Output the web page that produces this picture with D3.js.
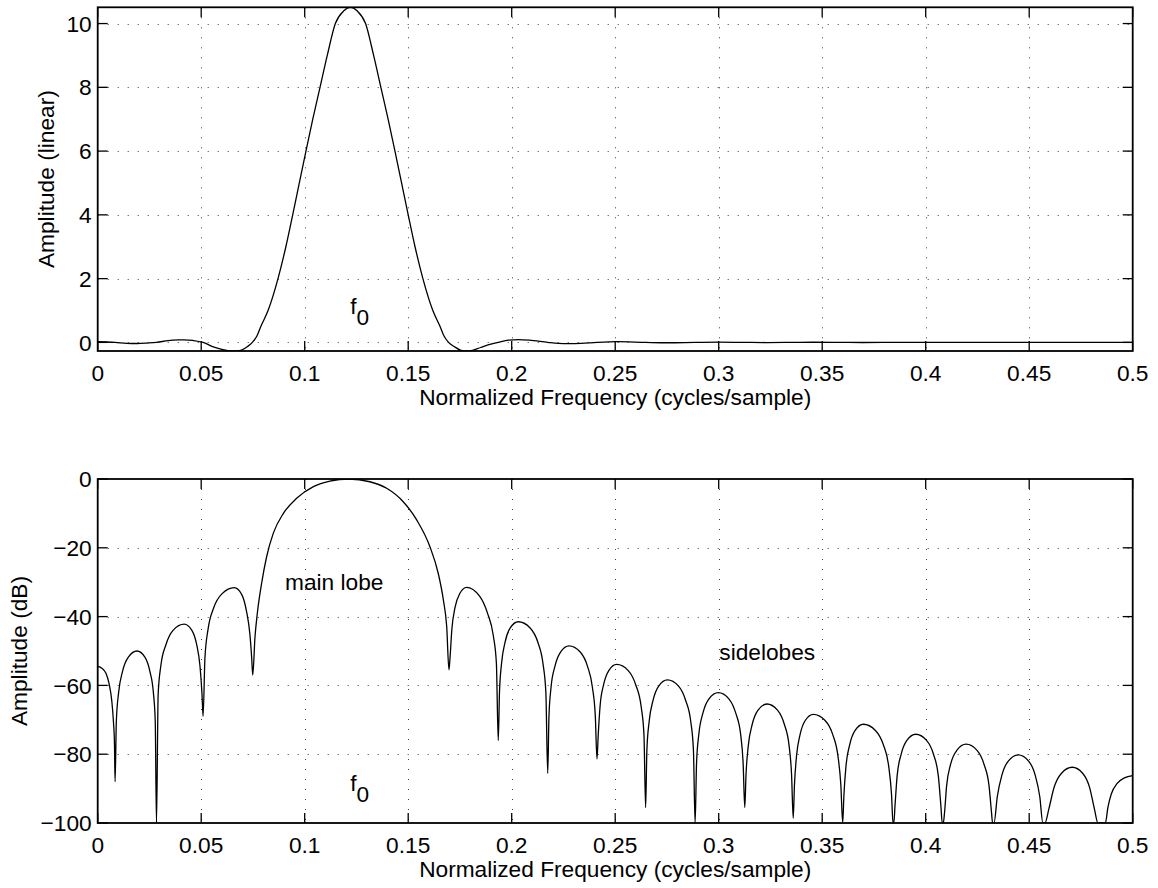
<!DOCTYPE html>
<html>
<head>
<meta charset="utf-8">
<script src="https://cdn.jsdelivr.net/npm/d3@7"></script>
<style>
  body { margin: 0; background: #fff; }
  text { font-family: "Liberation Sans", Arial, Helvetica, sans-serif; fill: #000; }
</style>
</head>
<body>
<script>
// Frequency axis (shared by both panels)
var freqTicks = [0, 0.05, 0.1, 0.15, 0.2, 0.25, 0.3, 0.35, 0.4, 0.45, 0.5];
var freqTickLabels = ["0", "0.05", "0.1", "0.15", "0.2", "0.25", "0.3", "0.35", "0.4", "0.45", "0.5"];

// Top panel: linear amplitude
var linearTicks = [0, 2, 4, 6, 8, 10];
var linearTickLabels = ["0", "2", "4", "6", "8", "10"];
var linearRange = [-0.27, 10.51];
var linearPoints = [
  [0, 0.02], [0.0042, 0.012], [0.0084, 0], [0.0140, -0.028], [0.0190, -0.034], [0.0240, -0.02],
  [0.0284, 0], [0.0340, 0.055], [0.0390, 0.078], [0.0418, 0.082], [0.0460, 0.06], [0.0509, 0],
  [0.0555, -0.13], [0.0600, -0.22], [0.0635, -0.265], [0.0662, -0.27], [0.0695, -0.24], [0.0724, -0.13],
  [0.0747, 0], [0.0769, 0.2], [0.0788, 0.5], [0.0823, 1.0], [0.0871, 2.0], [0.0909, 3.0],
  [0.0942, 4.0], [0.0974, 5.0], [0.1006, 6.0], [0.1039, 7.0], [0.1074, 8.0], [0.1109, 9.0],
  [0.1148, 10.0], [0.1189, 10.4], [0.1221, 10.51], [0.1253, 10.4], [0.1294, 10.0], [0.1333, 9.0],
  [0.1368, 8.0], [0.1403, 7.0], [0.1436, 6.0], [0.1468, 5.0], [0.1500, 4.0], [0.1533, 3.0],
  [0.1571, 2.0], [0.1619, 1.0], [0.1654, 0.5], [0.1673, 0.2], [0.1695, 0],
  [0.1722, -0.13], [0.1752, -0.24], [0.1782, -0.27], [0.1815, -0.24], [0.1850, -0.16],
  [0.1890, -0.07], [0.1935, 0], [0.1985, 0.07], [0.2032, 0.088], [0.2085, 0.07], [0.2174, 0],
  [0.2225, -0.032], [0.2277, -0.039], [0.2335, -0.03], [0.2412, 0], [0.2507, 0.021], [0.2647, 0],
  [0.2752, -0.012], [0.2886, 0], [0.2998, 0.008], [0.3126, 0], [0.3233, -0.005], [0.3360, 0],
  [0.3457, 0.004], [0.3599, 0], [0.3699, -0.003], [0.3844, 0], [0.3952, 0.002], [0.4082, 0],
  [0.4195, -0.0015], [0.4327, 0], [0.4447, 0.001], [0.4571, 0], [0.4708, -0.0007], [0.4835, 0],
  [0.5, 0.0005]
];

// Bottom panel: amplitude in dB
var dbTicks = [-100, -80, -60, -40, -20, 0];
var dbTickLabels = ["\u2212100", "\u221280", "\u221260", "\u221240", "\u221220", "0"];
var dbRange = [-100, 0];
var dbPoints = [
  [0, -54.5], [0.0020, -55.0], [0.0040, -56.5], [0.0055, -59.5], [0.0068, -64.5], [0.0076, -70.5], [0.0081, -77], [0.0084, -88],
  [0.0090, -70.5], [0.0101, -62.1], [0.0120, -55.9], [0.0148, -51.8], [0.0190, -50.0], [0.0228, -51.8], [0.0252, -55.9], [0.0269, -62.1], [0.0278, -70.5], [0.0284, -100],
  [0.0292, -62.7], [0.0305, -54.3], [0.0330, -48.1], [0.0364, -44.0], [0.0418, -42.2], [0.0455, -44.0], [0.0478, -48.1], [0.0494, -54.3], [0.0504, -62.7], [0.0509, -69],
  [0.0518, -52.1], [0.0533, -43.7], [0.0560, -37.5], [0.0600, -33.4], [0.0660, -31.6], [0.0696, -33.6], [0.0719, -38.5], [0.0735, -45], [0.0744, -52.1], [0.0749, -57],
  [0.0760, -45.8], [0.0771, -39.1], [0.0792, -30.3], [0.0816, -22.6], [0.0848, -15.8], [0.0897, -10.0], [0.0961, -5.6], [0.1042, -2.2], [0.1122, -0.6], [0.1213, 0],
  [0.1315, -0.8], [0.1396, -2.7], [0.1476, -6.6], [0.1541, -11.9], [0.1605, -19.7], [0.1645, -27.4], [0.1670, -35.2], [0.1686, -42.9], [0.1697, -55.5],
  [0.1702, -52.0], [0.1711, -43.6], [0.1726, -37.4], [0.1749, -33.3], [0.1782, -31.5], [0.1844, -34.0], [0.1883, -39.0], [0.1911, -45.5], [0.1926, -53.5], [0.1935, -76],
  [0.1941, -62.0], [0.1951, -53.6], [0.1968, -47.4], [0.1993, -43.3], [0.2032, -41.5], [0.2089, -43.3], [0.2126, -47.4], [0.2151, -53.6], [0.2165, -62.0], [0.2174, -85.6],
  [0.2180, -69.0], [0.2190, -60.6], [0.2209, -54.4], [0.2236, -50.3], [0.2277, -48.5], [0.2331, -50.3], [0.2366, -54.4], [0.2390, -60.6], [0.2404, -69.0], [0.2412, -81.4],
  [0.2418, -74.4], [0.2427, -66.0], [0.2444, -59.8], [0.2469, -55.7], [0.2507, -53.9], [0.2563, -55.7], [0.2599, -59.8], [0.2625, -66.0], [0.2639, -74.4], [0.2647, -95.5],
  [0.2653, -78.9], [0.2664, -70.5], [0.2683, -64.3], [0.2710, -60.2], [0.2752, -58.4], [0.2806, -60.2], [0.2840, -64.3], [0.2865, -70.5], [0.2878, -78.9], [0.2886, -100],
  [0.2893, -82.6], [0.2904, -74.2], [0.2924, -68.0], [0.2953, -63.9], [0.2998, -62.1], [0.3049, -63.9], [0.3082, -68.0], [0.3106, -74.2], [0.3118, -82.6], [0.3126, -95.5],
  [0.3132, -85.9], [0.3143, -77.5], [0.3162, -71.3], [0.3190, -67.2], [0.3233, -65.4], [0.3284, -67.2], [0.3317, -71.3], [0.3340, -77.5], [0.3352, -85.9], [0.3360, -98.6],
  [0.3366, -88.9], [0.3376, -80.5], [0.3393, -74.3], [0.3418, -70.2], [0.3457, -68.4], [0.3514, -70.2], [0.3551, -74.3], [0.3576, -80.5], [0.3590, -88.9], [0.3599, -100],
  [0.3605, -91.8], [0.3615, -83.4], [0.3633, -77.2], [0.3659, -73.1], [0.3699, -71.3], [0.3757, -73.1], [0.3795, -77.2], [0.3821, -83.4], [0.3835, -91.8], [0.3842, -100], [0.3846, -100],
  [0.3852, -94.7], [0.3862, -86.3], [0.3881, -80.1], [0.3909, -76.0], [0.3952, -74.2], [0.4004, -76.0], [0.4038, -80.1], [0.4061, -86.3], [0.4073, -94.7], [0.4080, -100], [0.4085, -100],
  [0.4091, -97.0], [0.4101, -89.2], [0.4120, -83.0], [0.4150, -78.9], [0.4195, -77.1], [0.4248, -78.9], [0.4282, -83.0], [0.4306, -89.2], [0.4318, -97.0], [0.4323, -100], [0.4330, -100],
  [0.4346, -92.3], [0.4368, -86.1], [0.4399, -82.0], [0.4447, -80.2], [0.4497, -82.0], [0.4529, -86.1], [0.4551, -92.3], [0.4566, -100], [0.4576, -100],
  [0.4595, -95.9], [0.4620, -89.7], [0.4655, -85.6], [0.4708, -83.8], [0.4759, -85.6], [0.4792, -89.7], [0.4815, -95.9], [0.4832, -100], [0.4868, -100],
  [0.4880, -95.5], [0.4897, -91.5], [0.4925, -88.5], [0.4960, -86.9], [0.5, -86.2]
];

var fontSize = 22.7;

var svg = d3.select("body")
  .append("svg")
  .attr("width", 1158)
  .attr("height", 888);

var x = d3.scaleLinear().domain([0, 0.5]).range([97.7, 1132.7]);

var panels = [
  {id: "lin", top: 7.3, bottom: 351, domain: linearRange, ticks: linearTicks, tickLabels: linearTickLabels,
   points: linearPoints, ylabel: "Amplitude (linear)", ylabelX: 54,
   notes: [{f0: true, fx: 0.122, y: 0.89}]},
  {id: "db", top: 479, bottom: 823, domain: dbRange, ticks: dbTicks, tickLabels: dbTickLabels,
   points: dbPoints, ylabel: "Amplitude (dB)", ylabelX: 27,
   notes: [{f0: true, fx: 0.122, y: -90.8}, {text: "main lobe", fx: 0.0905, y: -32.4}, {text: "sidelobes", fx: 0.3003, y: -52.6}]}
];

panels.forEach(function(p) {
  var y = d3.scaleLinear().domain(p.domain).range([p.bottom, p.top]);
  var left = x.range()[0], right = x.range()[1];
  var g = svg.append("g");

  g.append("clipPath").attr("id", "clip-" + p.id)
    .append("rect")
    .attr("x", left).attr("y", p.top)
    .attr("width", right - left).attr("height", p.bottom - p.top);

  // dotted grid
  var grid = g.append("g")
    .attr("stroke", "#000")
    .attr("stroke-width", 1)
    .attr("stroke-dasharray", "1,9")
    .attr("opacity", 0.75);
  grid.selectAll("line.gx")
    .data(freqTicks.filter(function(t) { return t > 0 && t < 0.5; }))
    .enter().append("line")
    .attr("x1", function(d) { return Math.round(x(d)) + 0.5; })
    .attr("x2", function(d) { return Math.round(x(d)) + 0.5; })
    .attr("y1", p.top).attr("y2", p.bottom);
  grid.selectAll("line.gy")
    .data(p.ticks.filter(function(t) { return t > p.domain[0] && t < p.domain[1]; }))
    .enter().append("line")
    .attr("x1", left).attr("x2", right)
    .attr("y1", function(d) { return Math.round(y(d)) + 0.5; })
    .attr("y2", function(d) { return Math.round(y(d)) + 0.5; });

  // the curve
  var line = d3.line()
    .x(function(d) { return x(d[0]); })
    .y(function(d) { return y(Math.max(d[1], p.domain[0])); })
    .curve(d3.curveMonotoneX);
  g.append("path")
    .datum(p.points)
    .attr("clip-path", "url(#clip-" + p.id + ")")
    .attr("fill", "none")
    .attr("stroke", "#000")
    .attr("stroke-width", 1.3)
    .attr("d", line);

  // inward ticks on all four sides
  var ticks = g.append("g").attr("stroke", "#000").attr("stroke-width", 1.3);
  freqTicks.forEach(function(t) {
    var xp = x(t);
    ticks.append("line").attr("x1", xp).attr("x2", xp).attr("y1", p.bottom).attr("y2", p.bottom - 10);
    ticks.append("line").attr("x1", xp).attr("x2", xp).attr("y1", p.top).attr("y2", p.top + 10);
  });
  p.ticks.forEach(function(t) {
    var yp = y(t);
    ticks.append("line").attr("x1", left).attr("x2", left + 10).attr("y1", yp).attr("y2", yp);
    ticks.append("line").attr("x1", right).attr("x2", right - 10).attr("y1", yp).attr("y2", yp);
  });

  // box
  g.append("rect")
    .attr("x", left).attr("y", p.top)
    .attr("width", right - left).attr("height", p.bottom - p.top)
    .attr("fill", "none")
    .attr("stroke", "#000")
    .attr("stroke-width", 1.8);

  // tick labels
  g.selectAll("text.xt")
    .data(freqTicks)
    .enter().append("text")
    .attr("x", function(d) { return x(d); })
    .attr("y", p.bottom + 30)
    .attr("text-anchor", "middle")
    .style("font-size", fontSize + "px")
    .text(function(d, i) { return freqTickLabels[i]; });
  g.selectAll("text.yt")
    .data(p.ticks)
    .enter().append("text")
    .attr("x", left - 6)
    .attr("y", function(d) { return y(d); })
    .attr("dy", "0.36em")
    .attr("text-anchor", "end")
    .style("font-size", fontSize + "px")
    .text(function(d, i) { return p.tickLabels[i]; });

  // axis labels
  g.append("text")
    .attr("x", (left + right) / 2)
    .attr("y", p.bottom + 54)
    .attr("text-anchor", "middle")
    .style("font-size", fontSize + "px")
    .text("Normalized Frequency (cycles/sample)");
  g.append("text")
    .attr("transform", "translate(" + p.ylabelX + "," + ((p.top + p.bottom) / 2) + ") rotate(-90)")
    .attr("text-anchor", "middle")
    .style("font-size", fontSize + "px")
    .text(p.ylabel);

  // annotations
  p.notes.forEach(function(n) {
    var t = g.append("text")
      .attr("x", x(n.fx))
      .attr("y", y(n.y))
      .style("font-size", fontSize + "px");
    if (n.f0) {
      t.append("tspan").text("f");
      t.append("tspan").attr("dy", 11).text("0");
    } else {
      t.text(n.text);
    }
  });
});
</script>
</body>
</html>
